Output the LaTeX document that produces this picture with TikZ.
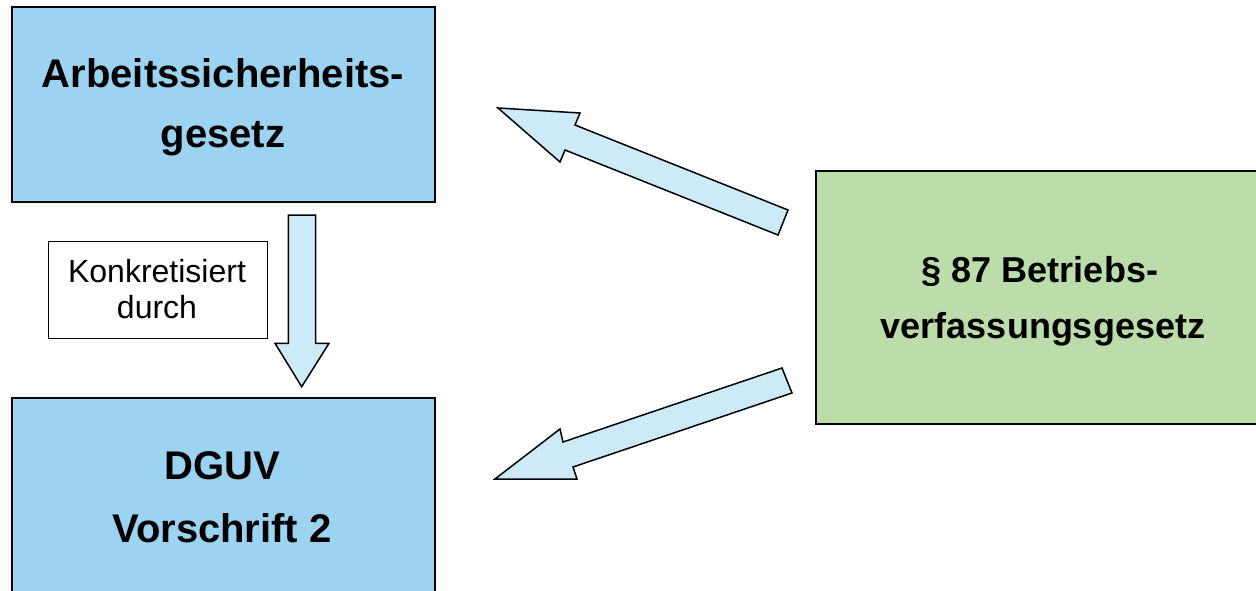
\documentclass[tikz,border=0pt]{standalone}
\usepackage{fontspec}
\setmainfont{Liberation Sans}
\definecolor{boxblue}{RGB}{155,211,240}
\definecolor{arrowblue}{RGB}{205,234,248}
\definecolor{boxgreen}{RGB}{187,221,170}
\begin{document}
\begin{tikzpicture}[x=1pt,y=-1pt,
  lawbox/.style={draw=black, line width=2pt, rectangle, anchor=north west, inner sep=0pt},
  bigtxt/.style={anchor=base, inner sep=0pt, font=\fontsize{40}{48}\selectfont\bfseries},
  midtxt/.style={anchor=base, inner sep=0pt, font=\fontsize{36}{44}\selectfont\bfseries},
  smalltxt/.style={anchor=base, inner sep=0pt, font=\fontsize{32}{38}\selectfont},
  blockarrow/.style={draw=black, line width=1.5pt, fill=arrowblue, line join=miter}]
\useasboundingbox (0,0) rectangle (1256,591);
\clip (0,0) rectangle (1256,591);
\fill[white] (0,0) rectangle (1256,591);
% boxes
\node[lawbox, fill=boxblue, minimum width=423pt, minimum height=195pt] (asig) at (11,6) {};
\node[lawbox, fill=boxblue, minimum width=423pt, minimum height=210pt] (dguv) at (11,397) {};
\node[lawbox, fill=boxgreen, minimum width=460pt, minimum height=253pt] (betr) at (815,170) {};
\node[draw=black, line width=1.2pt, rectangle, anchor=north west, inner sep=0pt,
      minimum width=219pt, minimum height=97pt] (konk) at (48,241) {};
% texts
\node[bigtxt] (asig1) at (223,88) {Arbeitssicherheits-};
\node[bigtxt] (asig2) at (223,148) {gesetz};
\node[bigtxt] (dguv1) at (222,479) {DGUV};
\node[bigtxt] (dguv2) at (222,542) {Vorschrift 2};
\node[midtxt] (betr1) at (1040,282) {\S{} 87 Betriebs-};
\node[midtxt] (betr2) at (1043,338) {verfassungsgesetz};
\node[smalltxt] (konk1) at (157,282) {Konkretisiert};
\node[smalltxt] (konk2) at (157,318) {durch};
% block arrows
\draw[blockarrow] (288.3,215) -- (315.7,215) -- (315.7,343.3) -- (329,343.3)
  -- (301.7,386.7) -- (275,343.3) -- (288.3,343.3) -- cycle;
\draw[blockarrow] (788,210) -- (575,125) -- (580,113) -- (498,108)
  -- (560,162) -- (565,150) -- (778,235) -- cycle;
\draw[blockarrow] (782,368) -- (563,442) -- (560,429) -- (495,479)
  -- (577,479) -- (573,467) -- (792,393) -- cycle;
\end{tikzpicture}
\end{document}
